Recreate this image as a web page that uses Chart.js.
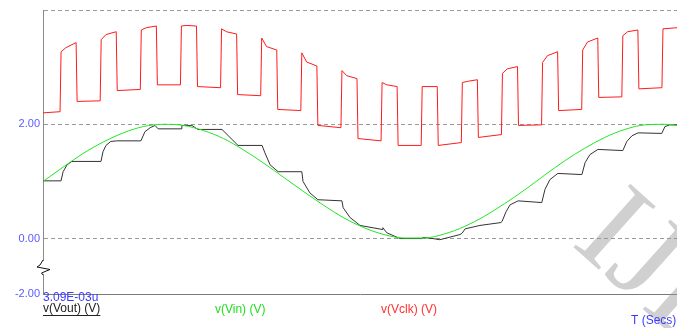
<!DOCTYPE html>
<html>
<head>
<meta charset="utf-8">
<script src="https://cdn.jsdelivr.net/npm/chart.js@4/dist/chart.umd.min.js"></script>
<style>
  html, body { margin: 0; padding: 0; background: #fff; }
  #wrap { width: 677px; height: 328px; }
</style>
</head>
<body>
<div id="wrap"><canvas id="simChart" width="677" height="328"></canvas></div>
<script>
// time axis in us, voltages in V
const timeMin = 0;
const timeMax = 15.8;

// y axis: gridlines at 4, 2, 0 and the bottom edge, which the plot labels -2.00
const yTickValues = [-0.97, 0, 2, 4];
const yTickLabels = ['-2.00', '0.00', '2.00', ''];

// v(Vin) - green sine
const vinTime = [0, 0.5, 1, 1.5, 2, 2.5, 3, 3.5, 4, 4.5, 5, 5.5, 6, 6.5, 7, 7.5,
  8, 8.5, 9, 9.5, 10, 10.5, 11, 11.5, 12, 12.5, 13, 13.5, 14, 14.5, 15, 15.5, 15.8];
const vinVolt = [1.00, 1.25, 1.49, 1.69, 1.85, 1.96, 2.00, 1.98, 1.89, 1.75, 1.55, 1.32,
  1.07, 0.82, 0.58, 0.36, 0.19, 0.07, 0.01, 0.01, 0.08, 0.21, 0.39, 0.61, 0.85, 1.11,
  1.36, 1.58, 1.77, 1.91, 1.99, 2.00, 1.98];

// v(Vout) - black sampled output
const voutTime = [0, 0.45, 0.50, 0.60, 0.72, 1.445,
  1.495, 1.57, 1.69, 1.84, 2.44,
  2.54, 2.67, 2.79, 2.87, 3.44,
  3.46, 3.71, 3.86, 4.46,
  4.86, 5.46,
  5.53, 5.66, 5.86, 6.45,
  6.48, 6.65, 6.85, 7.45,
  7.48, 7.65, 7.90, 8.45, 8.47,
  8.57, 8.90, 9.44, 9.47, 9.72, 9.89,
  10.39, 10.44, 10.52, 10.89, 11.41, 11.44,
  11.54, 11.64, 11.84, 12.43,
  12.51, 12.63, 12.83, 13.43,
  13.51, 13.63, 13.83, 14.45,
  14.55, 14.68, 14.83, 15.42,
  15.50, 15.62, 15.80];
const voutVolt = [1.01, 1.01, 1.17, 1.29, 1.35, 1.35,
  1.52, 1.63, 1.70, 1.71, 1.71,
  1.87, 1.94, 1.98, 1.92, 1.92,
  1.98, 1.98, 1.91, 1.91,
  1.63, 1.63,
  1.50, 1.29, 1.17, 1.17,
  1.00, 0.80, 0.68, 0.66,
  0.54, 0.37, 0.23, 0.16, 0.19,
  0.10, 0.00, 0.00, 0.02, 0.00, -0.02,
  0.07, 0.09, 0.17, 0.23, 0.28, 0.30,
  0.47, 0.59, 0.66, 0.63,
  0.86, 1.03, 1.14, 1.12,
  1.33, 1.47, 1.56, 1.54,
  1.70, 1.80, 1.85, 1.84,
  1.96, 1.99, 1.99];

// v(Vclk) - red clock riding on the input
const clkTime = [0, 0.425,
  0.45, 0.57, 0.825, 0.85, 1.425,
  1.45, 1.57, 1.825, 1.85, 2.425,
  2.45, 2.57, 2.825, 2.85, 3.425,
  3.45, 3.57, 3.825, 3.85, 4.425,
  4.45, 4.57, 4.825, 4.85, 5.425,
  5.45, 5.57, 5.825, 5.85, 6.425,
  6.45, 6.57, 6.825, 6.85, 7.425,
  7.45, 7.57, 7.825, 7.85, 8.425,
  8.45, 8.57, 8.825, 8.85, 9.425,
  9.45, 9.57, 9.825, 9.85, 10.425,
  10.45, 10.57, 10.825, 10.85, 11.425,
  11.45, 11.57, 11.825, 11.85, 12.425,
  12.45, 12.57, 12.825, 12.85, 13.425,
  13.45, 13.57, 13.825, 13.85, 14.425,
  14.45, 14.57, 14.825, 14.85, 15.425,
  15.45, 15.8];
const clkVolt = [2.20, 2.22,
  3.27, 3.34, 3.43, 2.40, 2.41,
  3.48, 3.57, 3.62, 2.59, 2.61,
  3.65, 3.69, 3.72, 2.69, 2.69,
  3.72, 3.73, 3.72, 2.66, 2.64,
  3.67, 3.62, 3.58, 2.52, 2.50,
  3.51, 3.36, 3.30, 2.26, 2.24,
  3.25, 3.09, 3.02, 1.98, 1.94,
  2.94, 2.85, 2.80, 1.75, 1.71,
  2.73, 2.69, 2.66, 1.63, 1.63,
  2.66, 2.66, 2.66, 1.63, 1.68,
  2.73, 2.75, 2.78, 1.77, 1.82,
  2.89, 2.97, 3.01, 1.98, 1.99,
  3.08, 3.20, 3.27, 2.24, 2.26,
  3.30, 3.44, 3.51, 2.47, 2.48,
  3.55, 3.62, 3.65, 2.62, 2.64,
  3.67, 3.69];

const toPoints = (xs, ys) => xs.map((x, i) => ({ x: x, y: ys[i] }));

// labels under the plot, break mark on the axis, faint watermark
const annotations = {
  id: 'annotations',
  beforeDatasetsDraw(chart) {
    const c = chart.ctx;
    c.save();
    c.translate(570, 244);
    c.rotate(0.73);
    c.font = '130px "Liberation Serif"';
    c.fillStyle = 'rgba(150,150,150,0.45)';
    c.fillText('IJE', 0, 0);
    c.restore();
  },
  afterDraw(chart) {
    const c = chart.ctx;
    const left = chart.chartArea.left;
    c.save();
    c.font = '12px "Liberation Sans"';
    c.textBaseline = 'middle';
    c.textAlign = 'left';
    c.fillStyle = '#3b3bff';
    c.fillText('3.09E-03u', left, 298);
    c.fillStyle = '#222';
    c.fillText('v(Vout) (V)', left, 309);
    const w = c.measureText('v(Vout) (V)').width;
    c.fillRect(left, 315, w, 1);
    c.fillStyle = '#22dd22';
    c.fillText('v(Vin) (V)', 215, 310);
    c.fillStyle = '#ff3030';
    c.fillText('v(Vclk) (V)', 381, 310);
    c.fillStyle = '#3b3bff';
    c.fillText('T (Secs)', 631, 321);

    // axis break mark
    c.fillStyle = '#fff';
    c.fillRect(left - 1, 261, 3, 13);
    c.strokeStyle = '#111';
    c.lineWidth = 1;
    c.beginPath();
    c.moveTo(left, 260);
    c.lineTo(40, 265);
    c.lineTo(37, 267);
    c.lineTo(50, 269.5);
    c.lineTo(41.5, 273);
    c.lineTo(left, 275);
    c.stroke();
    c.restore();
  }
};

const ctx = document.getElementById('simChart').getContext('2d');

new Chart(ctx, {
  type: 'line',
  data: {
    datasets: [
      {
        label: 'v(Vclk) (V)',
        data: toPoints(clkTime, clkVolt),
        borderColor: '#ff1a1a',
        borderWidth: 1,
        pointRadius: 0,
        tension: 0
      },
      {
        label: 'v(Vin) (V)',
        data: toPoints(vinTime, vinVolt),
        borderColor: '#22e622',
        borderWidth: 1,
        pointRadius: 0,
        cubicInterpolationMode: 'monotone'
      },
      {
        label: 'v(Vout) (V)',
        data: toPoints(voutTime, voutVolt),
        borderColor: '#333333',
        borderWidth: 1,
        pointRadius: 0,
        tension: 0
      }
    ]
  },
  options: {
    responsive: false,
    animation: false,
    layout: {
      padding: { top: 10, right: 0, bottom: 0, left: 0 }
    },
    plugins: {
      legend: { display: false },
      tooltip: { enabled: false },
      title: { display: false }
    },
    scales: {
      x: {
        type: 'linear',
        min: timeMin,
        max: timeMax,
        afterFit: (scale) => { scale.height = 34; },
        ticks: { display: false },
        grid: { display: true, drawOnChartArea: false, drawTicks: false },
        border: { display: true, color: '#7a7a7a', width: 1 }
      },
      y: {
        min: yTickValues[0],
        max: yTickValues[yTickValues.length - 1],
        afterFit: (scale) => { scale.width = 43; },
        afterBuildTicks: (scale) => {
          scale.ticks = yTickValues.map(v => ({ value: v }));
        },
        ticks: {
          padding: 3,
          color: '#5a5aff',
          font: { family: 'Liberation Sans', size: 11 },
          callback: (value, index) => yTickLabels[index]
        },
        grid: {
          drawTicks: false,
          color: (c) => c.index === 0 ? 'rgba(0,0,0,0)' : '#9a9a9a',
          lineWidth: 1
        },
        border: { display: true, color: '#8a8a8a', width: 1, dash: [4, 3] }
      }
    }
  },
  plugins: [annotations]
});
</script>
</body>
</html>
